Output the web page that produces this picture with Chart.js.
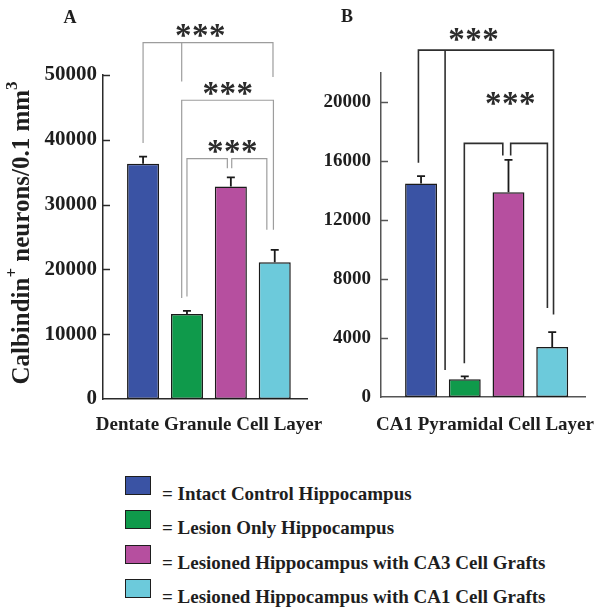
<!DOCTYPE html>
<html>
<head>
<meta charset="utf-8">
<script src="https://cdn.jsdelivr.net/npm/chart.js@4.4.1/dist/chart.umd.min.js"></script>
<style>
  body { margin: 0; background: #fff; }
  #wrap { position: relative; width: 602px; height: 611px; }
  #wrap canvas { position: absolute; left: 0; top: 0; }
  #legend { position: absolute; left: 125px; top: 476px; font: bold 19px 'Liberation Serif', serif; color: #1e1e1e; }
  .row { position: relative; height: 34.4px; }
  .box { position: absolute; left: 0; top: 0; width: 24px; height: 17px; border: 1.5px solid #1e1e1e; }
  .txt { position: absolute; left: 37px; top: 18px; line-height: 0; white-space: nowrap; }
</style>
</head>
<body>
<div id="wrap">
  <canvas id="panelA" width="602" height="450"></canvas>
  <canvas id="panelB" width="602" height="450"></canvas>
  <div id="legend"></div>
</div>
<script>
// groups, shared by both panels
const groups = [
  'Intact Control Hippocampus',
  'Lesion Only Hippocampus',
  'Lesioned Hippocampus with CA3 Cell Grafts',
  'Lesioned Hippocampus with CA1 Cell Grafts'
];
const colors = ['#3a53a4', '#0f9a4b', '#b64f9f', '#6ccadb'];

// A: dentate granule cell layer
const dentateMeans = [36300, 13100, 32800, 21100];
const dentateSem = [1100, 500, 1400, 1900];
const dentateTicks = [0, 10000, 20000, 30000, 40000, 50000];

// B: CA1 pyramidal cell layer
const ca1Means = [14500, 1200, 13900, 3400];
const ca1Sem = [500, 200, 2200, 1000];
const ca1Ticks = [0, 4000, 8000, 12000, 16000, 20000];

const serif = "'Liberation Serif', 'Times New Roman', serif";

// significance brackets, in (group index, value) units
const dentateBrackets = [
  [[0, 39500], [0, 55000], [2.96, 55000], [2.96, 49700]],
  [[0.88, 55000], [0.88, 49000]],
  [[0.88, 15600], [0.88, 46100], [2.97, 46100], [2.97, 26100]],
  [[1.0, 15800], [1.0, 37100], [1.92, 37100], [1.92, 35600]],
  [[2.02, 35600], [2.02, 37100], [2.82, 37100], [2.82, 26100]]
];
const dentateStars = [[1.30, 56900], [1.93, 47900], [2.03, 38900]];

const ca1Brackets = [
  [[-0.06, 15900], [-0.06, 23550], [3.03, 23550], [3.03, 5600]],
  [[0.55, 23550], [0.55, 1830]],
  [[0.99, 2300], [0.99, 17220], [1.87, 17220], [1.87, 16400]],
  [[2.05, 16400], [2.05, 17220], [2.89, 17220], [2.89, 6050]]
];
const ca1Stars = [[1.20, 24600], [2.04, 20300]];

function overlay(cfg) {
  return {
    id: 'overlay',
    afterDatasetsDraw(chart) {
      const { ctx, chartArea, scales: { x, y } } = chart;
      ctx.save();

      // inward tick marks
      ctx.strokeStyle = cfg.axisColor;
      ctx.lineWidth = 1.5;
      cfg.ticks.forEach(v => {
        if (!v) return;
        const py = Math.round(y.getPixelForValue(v)) + 0.5;
        ctx.beginPath();
        ctx.moveTo(chartArea.left, py);
        ctx.lineTo(chartArea.left + 7, py);
        ctx.stroke();
      });

      // error bars (upper only)
      ctx.strokeStyle = '#1a1a1a';
      ctx.lineWidth = 1.8;
      chart.getDatasetMeta(0).data.forEach((bar, i) => {
        const top = y.getPixelForValue(cfg.means[i] + cfg.sem[i]);
        ctx.beginPath();
        ctx.moveTo(bar.x, bar.y);
        ctx.lineTo(bar.x, top);
        ctx.moveTo(bar.x - 4, top);
        ctx.lineTo(bar.x + 4, top);
        ctx.stroke();
      });

      // brackets
      ctx.strokeStyle = cfg.bracketColor;
      ctx.lineWidth = cfg.bracketWidth;
      cfg.brackets.forEach(line => {
        ctx.beginPath();
        line.forEach(([vx, vy], k) => {
          const px = x.getPixelForValue(vx), py = y.getPixelForValue(vy);
          if (k) ctx.lineTo(px, py); else ctx.moveTo(px, py);
        });
        ctx.stroke();
      });

      // stars
      ctx.fillStyle = '#2b2b2b';
      ctx.font = 'bold 33px ' + serif;
      ctx.textAlign = 'center';
      ctx.textBaseline = 'alphabetic';
      const m = ctx.measureText('*');
      const shift = (m.actualBoundingBoxAscent - m.actualBoundingBoxDescent) / 2;
      cfg.stars.forEach(([vx, vy]) => {
        const cx = x.getPixelForValue(vx), cy = y.getPixelForValue(vy);
        [-17, 0, 17].forEach(d => ctx.fillText('*', cx + d, cy + shift));
      });

      // panel letter
      ctx.fillStyle = '#1e1e1e';
      ctx.font = 'bold 18px ' + serif;
      ctx.fillText(cfg.letter[0], cfg.letter[1], cfg.letter[2]);

      // x title (no width squeeze)
      ctx.font = 'bold 19px ' + serif;
      ctx.fillText(cfg.xTitle, (chartArea.left + chartArea.right) / 2 + cfg.xTitleShift, chartArea.bottom + cfg.xTitleGap);

      // y title with superscripts
      if (cfg.yTitle) {
        ctx.translate(29, 233);
        ctx.rotate(-Math.PI / 2);
        ctx.textAlign = 'left';
        const big = 'bold 25px ' + serif, small = 'bold 17px ' + serif;
        const parts = [['Calbindin', 0], ['+', 1], [' neurons/0.1 mm', 0], ['3', 1]];
        let total = 0;
        parts.forEach(([t, s]) => { ctx.font = s ? small : big; total += ctx.measureText(t).width; });
        let px = -total / 2;
        parts.forEach(([t, s]) => {
          ctx.font = s ? small : big;
          ctx.fillText(t, px, s ? -12 : 0);
          px += ctx.measureText(t).width;
        });
      }
      ctx.restore();
    }
  };
}

function makePanel(id, means, ticks, cfg) {
  return new Chart(document.getElementById(id), {
    type: 'bar',
    data: {
      datasets: [{
        data: groups.map((g, i) => ({ x: i, y: means[i] })),
        backgroundColor: colors,
        borderColor: '#1a1a1a',
        borderWidth: 1.5,
        borderSkipped: false,
        barPercentage: 0.73,
        categoryPercentage: 1
      }]
    },
    options: {
      responsive: false,
      animation: false,
      layout: { padding: cfg.padding },
      plugins: { legend: { display: false }, tooltip: { enabled: false } },
      scales: {
        x: {
          type: 'linear',
          min: cfg.xMin,
          max: cfg.xMax,
          offset: false,
          grid: { display: false, drawTicks: false },
          border: { color: cfg.axisColor, width: 1.5 },
          ticks: { display: false },
          afterFit: s => { s.height = 0; }
        },
        y: {
          min: 0,
          max: cfg.yMax,
          grid: { display: false, drawTicks: false },
          border: { color: cfg.axisColor, width: 1.5 },
          ticks: {
            padding: cfg.tickPad,
            color: '#1e1e1e',
            font: { family: serif, size: cfg.tickSize, weight: 'bold' },
            callback: v => String(v)
          },
          afterBuildTicks: s => { s.ticks = ticks.map(v => ({ value: v })); },
          afterFit: s => { s.width = 60; }
        }
      }
    },
    plugins: [overlay(Object.assign({ means: cfg.means, ticks }, cfg))]
  });
}

makePanel('panelA', dentateMeans, dentateTicks, {
  means: dentateMeans, sem: dentateSem,
  padding: { left: 43, right: 295, top: 75, bottom: 51 },
  xMin: -0.913, xMax: 3.735, yMax: 50000,
  xTitle: 'Dentate Granule Cell Layer', xTitleShift: 4, xTitleGap: 31,
  tickPad: 6, tickSize: 21, axisColor: '#2a2a2a',
  brackets: dentateBrackets, stars: dentateStars,
  bracketColor: '#9d9d9d', bracketWidth: 1.2,
  letter: ['A', 70, 23], yTitle: true
});

makePanel('panelB', ca1Means, ca1Ticks, {
  means: ca1Means, sem: ca1Sem,
  padding: { left: 321, right: 17, top: 73, bottom: 53 },
  xMin: -0.916, xMax: 3.75, yMax: 22000,
  xTitle: 'CA1 Pyramidal Cell Layer', xTitleShift: 2, xTitleGap: 33,
  tickPad: 10, tickSize: 19, axisColor: '#555555',
  brackets: ca1Brackets, stars: ca1Stars,
  bracketColor: '#2e2e2e', bracketWidth: 1.6,
  letter: ['B', 347, 22], yTitle: false
});

// legend below both panels
const legend = document.getElementById('legend');
groups.forEach((g, i) => {
  const row = document.createElement('div');
  row.className = 'row';
  row.innerHTML = '<div class="box" style="background:' + colors[i] + '"></div><div class="txt">= ' + g + '</div>';
  legend.appendChild(row);
});
</script>
</body>
</html>
